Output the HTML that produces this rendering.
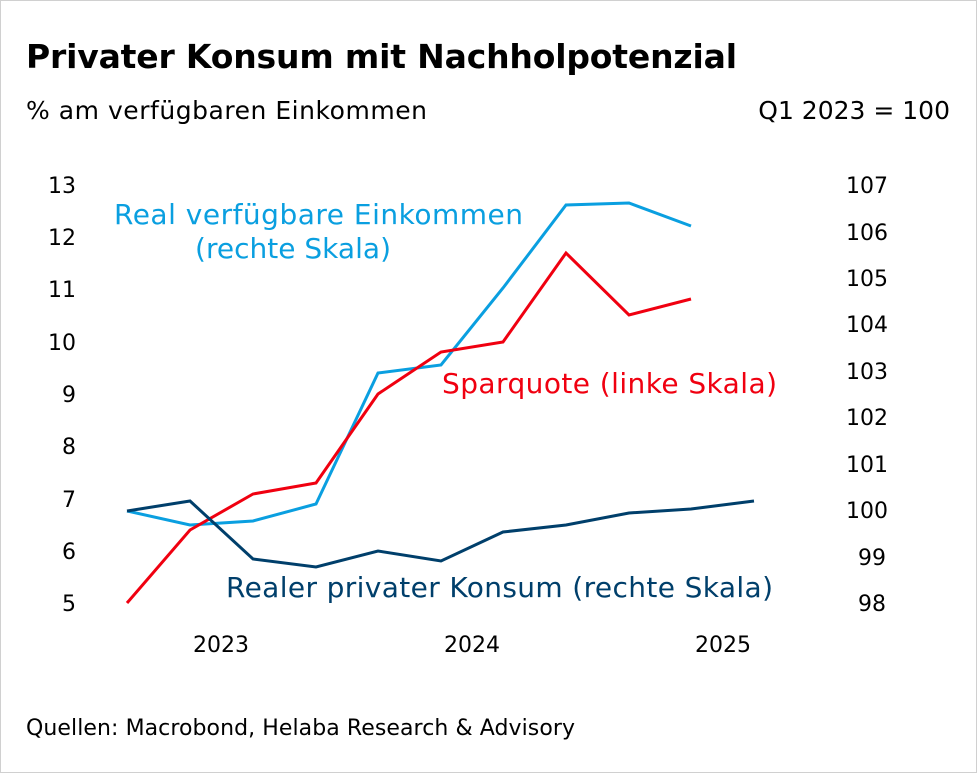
<!DOCTYPE html>
<html><head><meta charset="utf-8"><style>
body{margin:0;background:#fff}
svg{display:block}
text{font-family:"DejaVu Sans","Liberation Sans",sans-serif}
</style></head><body>
<svg width="977" height="773" viewBox="0 0 977 773">
<rect x="0.5" y="0.5" width="976" height="772" fill="#fff" stroke="#d0d0d0"/>
<text x="26" y="68" font-size="33" font-weight="bold" fill="#000" textLength="711">Privater Konsum mit Nachholpotenzial</text>
<text x="26" y="119" font-size="25" fill="#000" textLength="401">% am verfügbaren Einkommen</text>
<text x="950" y="119" font-size="25" fill="#000" text-anchor="end">Q1 2023 = 100</text>
<g font-size="22" fill="#000" text-anchor="end">
<text x="76" y="193">13</text><text x="76" y="245">12</text><text x="76" y="297">11</text><text x="76" y="350">10</text>
<text x="76" y="402">9</text><text x="76" y="454">8</text><text x="76" y="507">7</text><text x="76" y="559">6</text><text x="76" y="611">5</text>
</g>
<g font-size="22" fill="#000">
<text x="846" y="193">107</text><text x="846" y="240">106</text><text x="846" y="286">105</text><text x="846" y="332">104</text>
<text x="846" y="379">103</text><text x="846" y="425">102</text><text x="846" y="472">101</text><text x="846" y="518">100</text>
<text x="858" y="565">99</text><text x="858" y="611">98</text>
</g>
<g font-size="22" fill="#000" text-anchor="middle">
<text x="221" y="652">2023</text><text x="472" y="652">2024</text><text x="723" y="652">2025</text>
</g>
<polyline fill="none" stroke="#0a9fe0" stroke-width="3" points="127,511 190,525 253,521 316,504 378,373 441,365 503,288 566,205 629,203 691,226"/>
<polyline fill="none" stroke="#f00010" stroke-width="3" points="127,603 190,530 253,494 316,483 378,394 441,352 503,342 566,253 629,315 691,299"/>
<polyline fill="none" stroke="#003f6b" stroke-width="3" points="127,511 190,501 253,559 316,567 378,551 441,561 503,532 566,525 629,513 691,509 754,501"/>
<text x="114" y="224" font-size="28" fill="#0a9fe0" textLength="409">Real verfügbare Einkommen</text>
<text x="195" y="258" font-size="28" fill="#0a9fe0" textLength="196">(rechte Skala)</text>
<text x="442" y="393" font-size="28" fill="#f00010" textLength="335">Sparquote (linke Skala)</text>
<text x="226" y="597" font-size="28" fill="#003f6b" textLength="547">Realer privater Konsum (rechte Skala)</text>
<text x="26" y="735" font-size="22" fill="#000" textLength="549">Quellen: Macrobond, Helaba Research &amp; Advisory</text>
</svg>
</body></html>
